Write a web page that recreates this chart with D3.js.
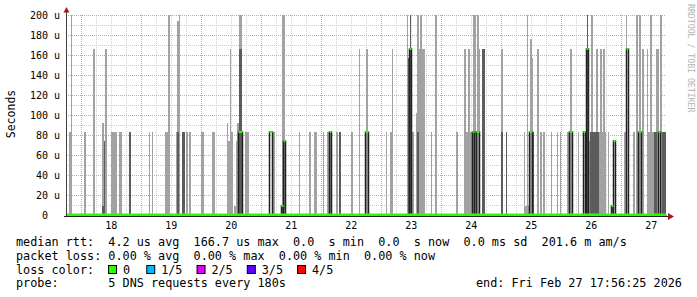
<!DOCTYPE html>
<html>
<meta charset="utf-8">
<style>
  body { margin: 0; background: #fff; }
  svg { width: 697px; height: 297px; display: block; }
  text { font-family: "DejaVu Sans Mono", monospace; fill: #000; }
</style>

<body>
  <svg></svg>
</body>

<script src="https://d3js.org/d3.v7.min.js"></script>

<script>

  // rrd rows, one row = 24 minutes, row 0 = start of the 10 day window
  var rowMinutes = 24;
  var endTime = new Date(2026, 1, 27, 17, 56, 25);

  // smoke: [fromRow, toRow, top in microseconds]
  var smoke = [
    [3,5,83],[5,6,200],[18,20,83],[27,29,166],[36,38,92],[39,41,166],[45,51,83],[53,56,83],
    [83,84,83],[86,87,83],[99,102,83],[102,104,200],[110,113,83],[111,113,194],[113,114,200],
    [120,122,83],[123,125,83],[135,138,83],[146,149,83],
    [161,164,74],[161,162,92],[164,165,166],[164,167,83],[168,170,9],[170,172,74],[171,173,92],
    [173,176,200],[179,183,83],[206,209,83],[216,219,200],[233,234,83],[243,245,83],[248,251,83],
    [257,258,83],[261,266,83],[270,272,83],[285,287,83],[293,294,166],[300,302,166],[320,321,83],
    [324,327,83],[326,327,166],[341,342,200],[341,343,157],[345,348,83],[350,351,102],[351,359,166],
    [351,353,200],[354,356,200],[365,366,83],[369,371,200],[390,392,83],[398,400,166],[399,406,83],
    [402,404,166],[407,410,200],[411,413,200],[413,414,166],[435,437,166],[458,459,83],[458,463,9],
    [461,462,200],[464,466,176],[465,467,157],[471,473,166],[474,476,83],[477,479,83],[485,486,83],
    [491,492,83],[494,495,83],[501,503,83],[504,506,166],[512,513,83],[522,525,74],[525,527,200],
    [530,532,166],[533,540,83],[534,536,166],[537,539,166],[542,543,83],[558,561,83],[560,561,200],
    [567,569,83],[570,572,200],[573,575,200],[576,578,166],[581,588,83],[581,582,166],[584,586,200],
    [590,593,166],[594,596,200]
  ];

  // denser smoke (more pings in range)
  var denseSmoke = [
    [36,38,9],[38,39,74],[63,65,83],[111,113,83],[116,119,83],[173,176,166],[215,217,9],
    [273,275,83],[342,343,157],[344,345,200],[351,353,83],[416,419,166],[435,437,83],[440,441,83],
    [466,468,83],[521,522,200],[524,533,83],[545,547,9],[588,591,83],[596,600,83]
  ];

  // median rtt where it is not 0: [fromRow, toRow, microseconds]
  var median = [
    [172,176,83],[203,206,83],[215,217,9],[217,219,74],[263,265,83],[299,302,83],[343,345,166],
    [406,408,83],[410,413,83],[463,466,83],[503,506,83],[517,519,83],[520,522,166],[545,547,9],
    [547,549,74],[560,562,166],[572,575,83],[592,594,83]
  ];

  var yTicks = [0, 20, 40, 60, 80, 100, 120, 140, 160, 180, 200];

  var legendRows = [
    "median rtt:  4.2 us avg  166.7 us max  0.0  s min  0.0  s now  0.0 ms sd  201.6 m am/s",
    "packet loss: 0.00 % avg  0.00 % max  0.00 % min  0.00 % now",
    "loss color:",
    "probe:       5 DNS requests every 180s"
  ];
  var lossLabels = ["0", "1/5", "2/5", "3/5", "4/5"];
  var lossColors = ["#26ff00", "#00b8ff", "#dd00ff", "#5e00ff", "#ff0000"];
  var endLabel = "end: Fri Feb 27 17:56:25 2026";

  var svg = d3.select("svg");

  var startTime = d3.timeDay.offset(endTime, -10);
  var x = d3.scaleTime().domain([startTime, endTime]).range([66, 666]);
  var y = d3.scaleLinear().domain([0, 200]).range([215, 15]).clamp(true);
  function rx(r) { return x(d3.timeMinute.offset(startTime, r * rowMinutes)); }

  // grid
  var grid = svg.append("g");
  grid.selectAll(".ymin").data(d3.range(10, 200, 20)).enter().append("line")
      .attr("x1", 66).attr("x2", 666)
      .attr("y1", function(d) { return y(d) + 0.5; }).attr("y2", function(d) { return y(d) + 0.5; })
      .attr("stroke", "#cfcfcf").attr("stroke-dasharray", "1,1");
  grid.selectAll(".xmin").data(d3.timeHour.every(6).range(startTime, endTime)).enter().append("line")
      .attr("y1", 15).attr("y2", 215)
      .attr("x1", function(d) { return Math.round(x(d)) + 0.5; }).attr("x2", function(d) { return Math.round(x(d)) + 0.5; })
      .attr("stroke", "#cfcfcf").attr("stroke-dasharray", "1,1");
  grid.selectAll(".ymaj").data(yTicks.slice(1)).enter().append("line")
      .attr("x1", 66).attr("x2", 666)
      .attr("y1", function(d) { return y(d) + 0.5; }).attr("y2", function(d) { return y(d) + 0.5; })
      .attr("stroke", "#dca0a0").attr("stroke-dasharray", "1,1");
  grid.selectAll(".xmaj").data(d3.timeDay.range(startTime, endTime)).enter().append("line")
      .attr("y1", 15).attr("y2", 215)
      .attr("x1", function(d) { return Math.round(x(d)) + 0.5; }).attr("x2", function(d) { return Math.round(x(d)) + 0.5; })
      .attr("stroke", "#dca0a0").attr("stroke-dasharray", "1,1");

  // smoke
  function bars(data, color) {
    svg.append("g").selectAll("rect").data(data).enter().append("rect")
        .attr("x", function(d) { return rx(d[0]); })
        .attr("width", function(d) { return rx(d[1]) - rx(d[0]); })
        .attr("y", function(d) { return y(d[2]); })
        .attr("height", function(d) { return y(0) - y(d[2]); })
        .attr("fill", color);
  }
  bars(smoke, "#a2a2a2");
  bars(denseSmoke, "#5c5c5c");

  // median line
  var pts = [[0, 0]];
  median.forEach(function(d) {
    pts.push([d[0], 0], [d[0], d[2]], [d[1], d[2]], [d[1], 0]);
  });
  pts.push([600, 0]);
  var line = d3.line().x(function(d) { return rx(d[0]) + 0.5; }).y(function(d) { return y(d[1]); });
  svg.append("path").attr("d", line(pts)).attr("fill", "none")
      .attr("stroke", "#202020").attr("stroke-width", 1.5);

  svg.append("g").selectAll("rect").data(median).enter().append("rect")
      .attr("x", function(d) { return rx(d[0]) + 0.5; })
      .attr("width", function(d) { return rx(d[1]) - rx(d[0]); })
      .attr("y", function(d) { return y(d[2]) - 1; })
      .attr("height", 2)
      .attr("fill", lossColors[0]);
  svg.append("rect").attr("x", 66).attr("width", 600).attr("y", y(0) - 1.5).attr("height", 2.5)
      .attr("fill", lossColors[0]);

  // axes
  svg.append("line").attr("x1", 66.5).attr("x2", 66.5).attr("y1", 11).attr("y2", 216)
      .attr("stroke", "#404040");
  svg.append("line").attr("x1", 64).attr("x2", 669).attr("y1", 216.5).attr("y2", 216.5)
      .attr("stroke", "#202020");
  svg.append("path").attr("d", "M63.5,12.5L66.5,7L69.5,12.5Z").attr("fill", "#a01c1c");
  svg.append("path").attr("d", "M668,213L674,216.5L668,220Z").attr("fill", "#a01c1c");

  var ylab = svg.append("g");
  ylab.selectAll("text").data(yTicks).enter().append("text")
      .attr("x", 60).attr("y", function(d) { return y(d) + 3.5; })
      .attr("text-anchor", "end").style("white-space", "pre").attr("font-size", 10)
      .text(function(d) { return d === 0 ? "0  " : d + " u"; });

  var noons = d3.timeDay.range(startTime, endTime).map(function(d) { return d3.timeHour.offset(d, 12); })
      .filter(function(d) { return d < endTime; });
  svg.append("g").selectAll("text").data(noons).enter().append("text")
      .attr("x", function(d) { return x(d); }).attr("y", 229)
      .attr("text-anchor", "middle").attr("font-size", 10)
      .text(d3.timeFormat("%-d"));

  svg.append("text").attr("transform", "translate(15,114) rotate(-90)")
      .attr("text-anchor", "middle").attr("font-size", 11.5)
      .text("Seconds");

  svg.append("text").attr("transform", "translate(688,4) rotate(90)")
      .attr("font-size", 8.2).style("fill", "#b4b4b4")
      .text("RRDTOOL / TOBI OETIKER");

  // legend
  var charW = 7.08;
  svg.append("g").selectAll("text").data(legendRows).enter().append("text")
      .attr("x", 16).attr("y", function(d, i) { return 246 + i * 13.8; })
      .attr("font-size", 11.8).style("white-space", "pre")
      .text(function(d) { return d; });

  var lossPos = [13, 18.4, 25.5, 32.6, 39.7];
  var lg = svg.append("g").selectAll("g").data(lossLabels).enter().append("g");
  lg.append("rect")
      .attr("x", function(d, i) { return 16 + lossPos[i] * charW + 0.5; })
      .attr("y", 265.5).attr("width", 8).attr("height", 8)
      .attr("fill", function(d, i) { return lossColors[i]; })
      .attr("stroke", "#000");
  lg.append("text")
      .attr("x", function(d, i) { return 16 + (lossPos[i] + 2.1) * charW; })
      .attr("y", 246 + 2 * 13.8).attr("font-size", 11.8)
      .text(function(d) { return d; });

  svg.append("text").attr("x", 476).attr("y", 246 + 3 * 13.8).attr("font-size", 11.8)
      .style("white-space", "pre").text(endLabel);

</script>

</html>
